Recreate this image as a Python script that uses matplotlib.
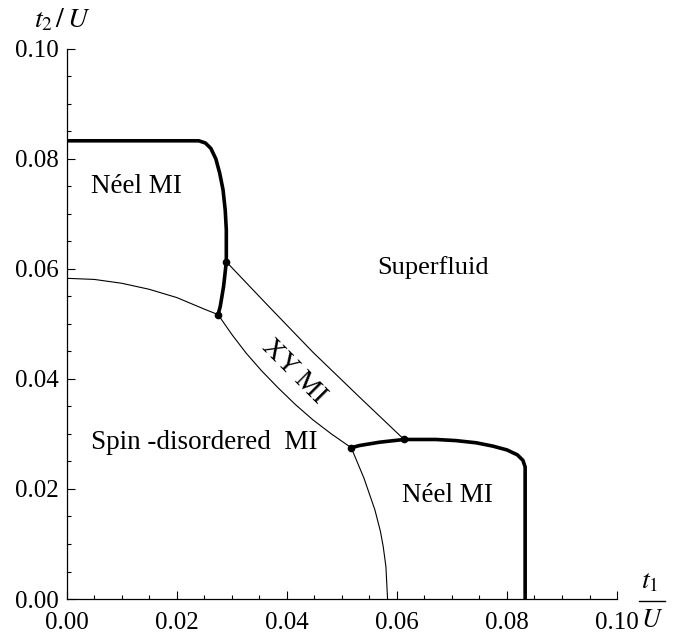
import matplotlib
matplotlib.use("Agg")
import matplotlib.pyplot as plt
from matplotlib.ticker import MultipleLocator, FormatStrFormatter

plt.rcParams["font.family"] = ["Liberation Serif", "DejaVu Serif"]
plt.rcParams["mathtext.fontset"] = "stix"

# ---- phase boundaries (t1/U, t2/U) ----
# upper-left Neel MI boundary (thick); the lower-right one is its mirror image
neel_t1 = [0.0, 0.0240, 0.0252, 0.0262, 0.0271, 0.0278, 0.0284, 0.0288, 0.0290,
           0.0290, 0.0290, 0.0285, 0.0279, 0.0275]
neel_t2 = [0.0833, 0.0833, 0.0829, 0.0819, 0.0800, 0.0774, 0.0744, 0.0707, 0.0671,
           0.0629, 0.0613, 0.0568, 0.0532, 0.0517]

# spin-disordered MI boundary (thin): upper-left arc and lower-right arc
sd_a_t1 = [0.0, 0.005, 0.010, 0.015, 0.020, 0.025, 0.0275]
sd_a_t2 = [0.0583, 0.0581, 0.0574, 0.0563, 0.0548, 0.0527, 0.0517]
sd_b_t1 = [0.0517, 0.054, 0.056, 0.057, 0.0575, 0.058, 0.0583]
sd_b_t2 = [0.0275, 0.0220, 0.0162, 0.0123, 0.0096, 0.0059, 0.0]

# XY MI region: lower and upper boundaries (thin)
xy_low_t1 = [0.0275, 0.0300, 0.0326, 0.0354, 0.0384, 0.0415, 0.0447, 0.0481, 0.0517]
xy_low_t2 = [0.0517, 0.0481, 0.0447, 0.0415, 0.0384, 0.0354, 0.0326, 0.0300, 0.0275]
xy_up_t1 = [0.0290, 0.0368, 0.0448, 0.0531, 0.0613]
xy_up_t2 = [0.0613, 0.0531, 0.0448, 0.0368, 0.0290]

# multicritical points
pts_t1 = [0.0275, 0.0290, 0.0517, 0.0613]
pts_t2 = [0.0517, 0.0613, 0.0275, 0.0290]

fig = plt.figure(figsize=(6.74, 6.33), dpi=100)
ax = fig.add_axes([0.099, 0.0537, 0.8165, 0.869])

thick = dict(color="black", lw=2.6, solid_capstyle="butt", solid_joinstyle="round")
thin = dict(color="black", lw=0.8)

ax.plot(neel_t1, neel_t2, **thick)
ax.plot(neel_t2, neel_t1, **thick)
ax.plot(sd_a_t1, sd_a_t2, **thin)
ax.plot(sd_b_t1, sd_b_t2, **thin)
ax.plot(xy_low_t1, xy_low_t2, **thin)
ax.plot(xy_up_t1, xy_up_t2, **thin)
ax.plot(pts_t1, pts_t2, "o", color="black", ms=4.5, zorder=5)

lab = dict(ha="center", va="center")
ax.text(0.0126, 0.0750, "Néel MI", fontsize=19.5, **lab)
ax.text(0.0665, 0.0602, "Superfluid", fontsize=19, **lab)
ax.text(0.0250, 0.0284, "Spin -disordered  MI", fontsize=19.5, **lab)
ax.text(0.0692, 0.0188, "Néel MI", fontsize=19.5, **lab)
ax.text(0.0412, 0.0413, "XY MI", rotation=-45, rotation_mode="anchor",
        fontsize=20, **lab)

ax.set_xlim(0, 0.10)
ax.set_ylim(0, 0.10)
ax.spines["top"].set_visible(False)
ax.spines["right"].set_visible(False)
for s in ("left", "bottom"):
    ax.spines[s].set_linewidth(0.9)

ax.xaxis.set_major_locator(MultipleLocator(0.02))
ax.yaxis.set_major_locator(MultipleLocator(0.02))
ax.xaxis.set_minor_locator(MultipleLocator(0.005))
ax.yaxis.set_minor_locator(MultipleLocator(0.005))
ax.xaxis.set_major_formatter(FormatStrFormatter("%.2f"))
ax.yaxis.set_major_formatter(FormatStrFormatter("%.2f"))
ax.tick_params(which="both", direction="in", width=0.8, labelsize=18)
ax.tick_params(which="major", length=6)
ax.tick_params(which="minor", length=3)
ax.tick_params(axis="x", pad=9)
ax.tick_params(axis="y", pad=6)

# axis labels, placed as in the original
fig.text(62 / 674, 1 - 20 / 633, r"$t_2\,/\,U$", fontsize=20, ha="center", va="center")
fig.text(650 / 674, 1 - 582 / 633, r"$t_1$", fontsize=20, ha="center", va="center")
fig.text(652 / 674, 1 - 621 / 633, r"$U$", fontsize=19, ha="center", va="center")
fig.add_artist(plt.Line2D([639 / 674, 665 / 674], [1 - 601 / 633, 1 - 601 / 633],
                          color="black", lw=1.0))

fig.savefig("out.png", dpi=100, facecolor="white")
